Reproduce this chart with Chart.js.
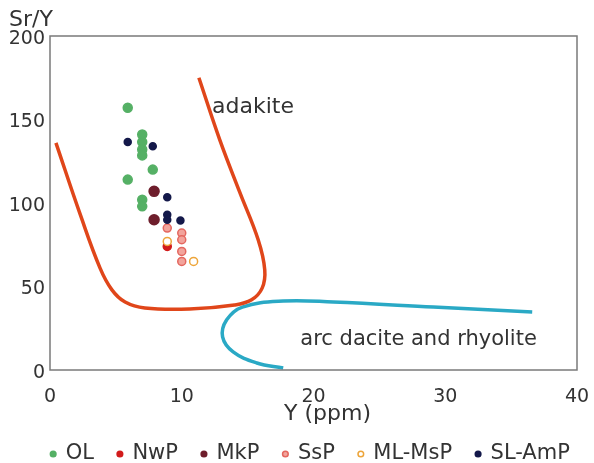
<!DOCTYPE html>
<html>
<head>
<meta charset="utf-8">
<script src="https://cdn.jsdelivr.net/npm/chart.js@4.4.0/dist/chart.umd.min.js"></script>
<style>
  html, body { margin: 0; padding: 0; background: #fff; overflow: hidden; }
  canvas { display: block; }
</style>
</head>
<body>
<canvas id="srChart" width="594" height="463"></canvas>
<script>
// sample groups, Y (ppm) and Sr/Y
const olX = [5.9, 7.0, 7.0, 7.0, 7.0, 7.8, 5.9, 7.0, 7.0];
const olY = [157, 141, 136.5, 132, 128.5, 120, 114, 102, 98];
const nwpX = [8.9];
const nwpY = [74];
const mkpX = [7.9, 7.9];
const mkpY = [107, 90];
const sspX = [8.9, 10.0, 10.0, 10.0, 10.0];
const sspY = [85, 82, 78, 71, 65];
const mlX = [8.9, 10.9];
const mlY = [77, 65];
const slX = [5.9, 7.8, 8.9, 8.9, 8.9, 9.9];
const slY = [136.5, 134, 103.5, 93, 90, 89.5];

// field boundaries
const adakiteX = [0.45, 2.3, 3.8, 4.7, 5.7, 7.2, 10.6, 14.0, 15.3, 16.1, 16.3, 15.8, 14.4, 12.9, 11.3];
const adakiteY = [136, 93, 61, 48, 40.7, 37.1, 36.5, 38.9, 42, 49, 60, 78, 106.5, 137.5, 175];
const arcX = [36.6, 29.1, 21.5, 17.7, 14.6, 13.4, 13.1, 13.9, 15.7, 17.7];
const arcY = [34.7, 37.7, 40.7, 41.3, 37.7, 29.9, 19.8, 10.8, 4.2, 1.2];

const xTicks = [0, 10, 20, 30, 40];
const yTicks = [0, 50, 100, 150, 200];

const FONT = "'DejaVu Sans', sans-serif";
const TEXT = "#333";

function pts(xs, ys) {
  return xs.map((x, i) => ({ x: x, y: ys[i] }));
}

function group(label, xs, ys, fill, stroke, r, order) {
  return {
    label: label,
    data: pts(xs, ys),
    backgroundColor: fill,
    borderColor: stroke,
    borderWidth: 1.5,
    pointRadius: r,
    pointHoverRadius: r,
    order: order
  };
}

function curve(xs, ys, color) {
  return {
    label: "_curve",
    isCurve: true,
    data: pts(xs, ys),
    showLine: true,
    borderColor: color,
    borderWidth: 3.5,
    pointRadius: 0,
    tension: 0.4,
    fill: false,
    order: 20
  };
}

const datasets = [
  group("OL", olX, olY, "#55b065", "#55b065", 4.5, 6),
  group("NwP", nwpX, nwpY, "#d21b1b", "#d21b1b", 4, 3),
  group("MkP", mkpX, mkpY, "#6e1e2c", "#6e1e2c", 5, 5),
  group("SsP", sspX, sspY, "#f2a49c", "#e4675f", 4, 4),
  group("ML-MsP", mlX, mlY, "#ffffff", "#eda53a", 4, 1),
  group("SL-AmP", slX, slY, "#14194a", "#14194a", 3.5, 2),
  curve(adakiteX, adakiteY, "#e0461a"),
  curve(arcX, arcY, "#2aa9c5")
];

// frame round the plot, the free text, and nudge the legend to sit under the plot
const extras = {
  id: "extras",
  afterLayout(chart) {
    chart.legend.left += 22;
    chart.legend.right += 22;
  },
  afterDatasetsDraw(chart) {
    const { ctx, chartArea: a, scales: { x, y } } = chart;
    ctx.save();
    ctx.strokeStyle = "#7a7a7a";
    ctx.lineWidth = 1.5;
    ctx.strokeRect(a.left, a.top, a.right - a.left, a.bottom - a.top);
    ctx.fillStyle = TEXT;
    ctx.textAlign = "left";
    ctx.textBaseline = "alphabetic";
    ctx.font = "22px " + FONT;
    ctx.fillText("adakite", x.getPixelForValue(12.3), y.getPixelForValue(154));
    ctx.font = "21px " + FONT;
    ctx.fillText("arc dacite and rhyolite", x.getPixelForValue(19.0), y.getPixelForValue(15));
    ctx.font = "22px " + FONT;
    ctx.fillText("Sr/Y", 9, 26);
    ctx.restore();
  }
};

new Chart(document.getElementById("srChart"), {
  type: "scatter",
  data: { datasets },
  options: {
    responsive: false,
    animation: false,
    layout: { padding: { left: 0, right: 17, top: 36, bottom: -11.5 } },
    plugins: {
      legend: {
        position: "bottom",
        labels: {
          usePointStyle: true,
          boxWidth: 4,
          boxHeight: 4,
          padding: 24,
          color: TEXT,
          font: { family: FONT, size: 21 },
          filter: (item, data) => !data.datasets[item.datasetIndex].isCurve,
          sort: (a, b) => a.datasetIndex - b.datasetIndex
        }
      },
      tooltip: { enabled: false }
    },
    scales: {
      x: {
        type: "linear",
        min: 0,
        max: 40,
        afterBuildTicks: s => { s.ticks = xTicks.map(v => ({ value: v })); },
        afterFit: s => {
          s.height = 49.5;
          s.paddingRight = 10;
        },
        grid: { display: false, drawTicks: false },
        border: { display: false },
        ticks: { padding: 16, color: TEXT, font: { family: FONT, size: 19 } },
        title: {
          display: true,
          text: "    Y (ppm)",
          color: TEXT,
          font: { family: FONT, size: 22 },
          padding: { top: 0, bottom: -8 }
        }
      },
      y: {
        type: "linear",
        min: 0,
        max: 200,
        afterBuildTicks: s => { s.ticks = yTicks.map(v => ({ value: v })); },
        afterFit: s => { s.width = 50; },
        grid: { display: false, drawTicks: false },
        border: { display: false },
        ticks: { padding: 5, labelOffset: 3, color: TEXT, font: { family: FONT, size: 19 } }
      }
    }
  },
  plugins: [extras]
});
</script>
</body>
</html>
